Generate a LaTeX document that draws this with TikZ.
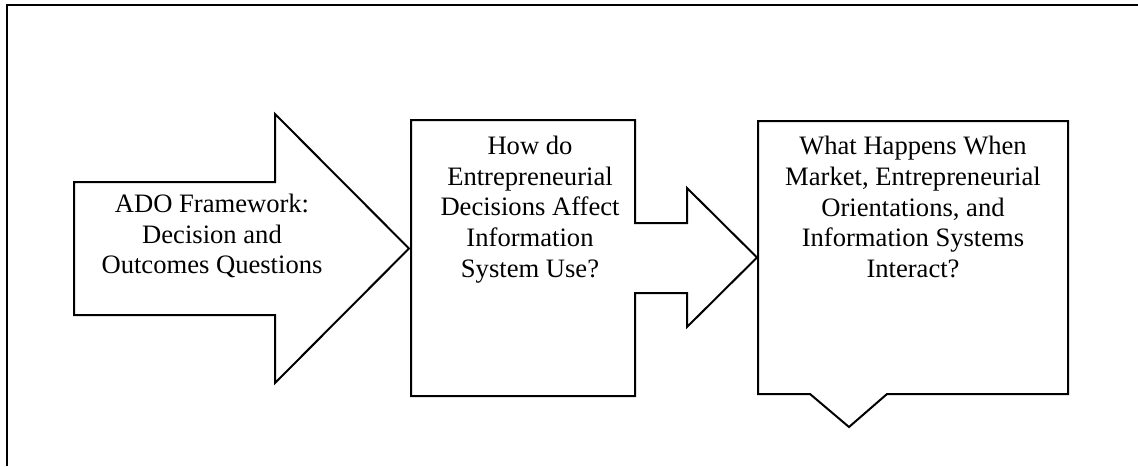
\documentclass[tikz,border=0pt]{standalone}
\usepackage{fontspec}
\setmainfont{Liberation Serif}
\usepackage{tikz}
\usetikzlibrary{positioning}

\begin{document}
\begin{tikzpicture}[
    x=0.5pt, y=-0.5pt,
    frame/.style={draw, line width=1.1pt},
    blockarrow/.style={draw, line width=1pt, line join=miter},
    question/.style={align=center, inner sep=0pt,
                     font=\fontsize{13.3}{15.3}\selectfont}
]
    \useasboundingbox (0,0) rectangle (1138,466);
    \draw[frame] (7,466) -- (7,5) -- (1138,5);

    % first arrow
    \draw[blockarrow] (74,182) -- (275,182) -- (275,114) -- (409,248.5)
        -- (275,383) -- (275,315) -- (74,315) -- cycle;
    \node[question] (ado) at (212,236)
        {ADO Framework:\\Decision and\\Outcomes Questions};

    % box with arrow to the right
    \draw[blockarrow] (411,120) -- (635,120) -- (635,223) -- (687,223)
        -- (687,188) -- (757,257.5) -- (687,327) -- (687,293)
        -- (635,293) -- (635,396) -- (411,396) -- cycle;
    \node[question] (decide) at (530,209.5)
        {How do\\Entrepreneurial\\Decisions Affect\\Information\\System Use?};

    % callout box
    \draw[blockarrow] (758,121) -- (1068,121) -- (1068,394) -- (887,394)
        -- (849,427) -- (810,394) -- (758,394) -- cycle;
    \node[question] (interact) at (913,207)
        {What Happens When\\Market, Entrepreneurial\\Orientations, and\\%
         Information Systems\\Interact?};
\end{tikzpicture}
\end{document}
